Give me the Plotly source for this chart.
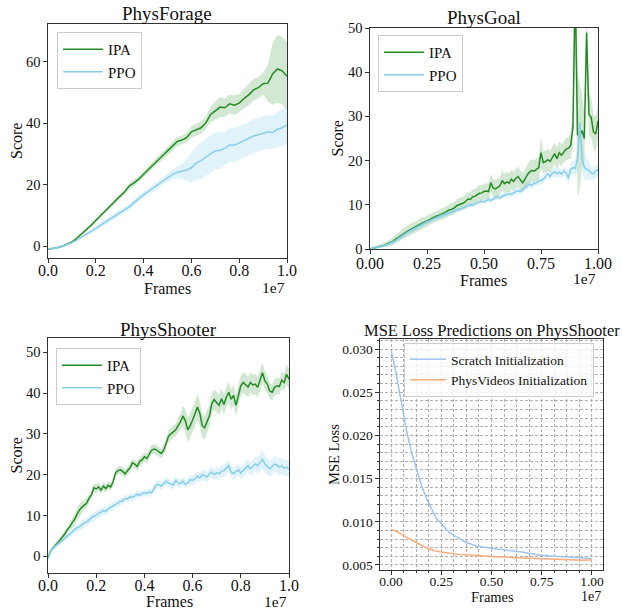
import plotly.graph_objects as go

FONT = "Liberation Serif"
W, H = 622, 609

# ---------------- data ----------------
# Frames are given in units of 1e7
forage_frames = [round(0.02 * i, 2) for i in range(51)]
forage_ipa = [-1.0, -0.8, -0.4, 0.0, 0.6, 1.4, 2.6, 3.9, 5.2, 6.8,
              8.4, 10.0, 11.5, 13.0, 14.6, 16.2, 17.6, 19.6, 20.6, 21.8,
              23.4, 25.0, 26.5, 28.0, 29.5, 31.0, 32.4, 34.0, 34.5, 35.3,
              37.2, 37.8, 38.5, 40.0, 42.8, 44.0, 45.2, 45.0, 46.3, 45.8,
              46.5, 48.0, 49.2, 50.8, 51.5, 52.8, 53.0, 56.0, 57.6, 57.0, 55.2]
forage_ipa_hw = [0.3, 0.3, 0.3, 0.3, 0.3, 0.4, 0.4, 0.4, 0.5, 0.5,
                 0.6, 0.6, 0.6, 0.7, 0.7, 0.8, 0.9, 1.0, 1.0, 1.0,
                 1.0, 1.1, 1.1, 1.2, 1.2, 1.4, 1.5, 1.5, 1.5, 1.6,
                 1.8, 2.0, 2.0, 2.0, 2.5, 3.0, 3.2, 3.0, 3.0, 3.2,
                 3.0, 3.2, 3.5, 3.5, 3.5, 3.5, 6.0, 10.0, 11.0, 11.0, 11.0]
forage_ppo = [-1.0, -0.8, -0.4, 0.0, 0.5, 1.2, 2.0, 2.9, 3.8, 4.8,
              5.8, 6.9, 7.9, 8.9, 9.9, 11.0, 11.8, 12.8, 14.2, 15.6,
              16.8, 17.8, 18.8, 20.0, 21.2, 22.2, 23.3, 24.0, 24.3, 24.8,
              25.5, 27.0, 27.8, 29.0, 30.0, 31.0, 31.2, 31.8, 33.0, 32.8,
              33.5, 34.2, 35.0, 35.8, 36.2, 36.8, 37.2, 37.0, 38.0, 38.5, 39.4]
forage_ppo_hw = [0.3, 0.3, 0.3, 0.3, 0.3, 0.3, 0.3, 0.4, 0.5, 0.6,
                 0.8, 0.9, 1.0, 1.0, 1.0, 1.0, 1.0, 1.0, 1.0, 1.0,
                 1.1, 1.2, 1.2, 1.2, 1.2, 1.3, 1.5, 2.0, 2.5, 3.5,
                 5.0, 5.5, 6.0, 6.0, 6.0, 6.0, 6.0, 5.5, 5.5, 5.5,
                 5.5, 5.5, 5.5, 5.5, 5.5, 5.5, 5.5, 5.5, 5.8, 6.0, 6.0]

goal_frames = [round(0.01 * i, 2) for i in range(101)]
goal_ipa = [0.0, 0.2, 0.3, 0.4, 0.6, 0.7, 0.8, 1.0, 1.2, 1.4,
            1.7, 2.1, 2.5, 2.9, 3.2, 3.5, 3.9, 4.2, 4.5, 4.7,
            5.0, 5.3, 5.6, 5.9, 6.1, 6.3, 6.6, 6.9, 7.2, 7.4,
            7.6, 7.8, 8.0, 8.3, 8.6, 8.9, 9.0, 9.3, 9.8, 10.0,
            10.2, 10.4, 10.8, 11.3, 11.2, 11.8, 11.9, 12.2, 12.6, 12.7,
            13.0, 13.1, 13.0, 15.0, 13.8, 13.6, 14.0, 14.3, 15.5, 14.8,
            15.2, 14.9, 15.8, 15.3, 16.0, 16.4, 15.6, 15.0, 15.8, 16.8,
            17.4, 17.8, 17.6, 18.0, 18.4, 21.8, 19.6, 19.8, 20.2, 19.8,
            20.6, 21.6, 20.4, 21.8, 21.2, 22.0, 22.6, 22.8, 23.4, 27.5,
            60.0, 26.0, 25.5, 26.8, 25.0, 49.0, 30.5, 29.8, 26.5, 26.0, 29.0]
goal_ipa_hw = [0.2, 0.2, 0.3, 0.3, 0.3, 0.4, 0.5, 0.6, 0.7, 0.8,
               0.9, 1.0, 1.1, 1.2, 1.2, 1.3, 1.3, 1.3, 1.3, 1.3,
               1.3, 1.3, 1.3, 1.3, 1.2, 1.2, 1.2, 1.2, 1.2, 1.2,
               1.2, 1.2, 1.3, 1.3, 1.3, 1.3, 1.4, 1.4, 1.4, 1.5,
               1.5, 1.5, 1.6, 1.6, 1.6, 1.7, 1.7, 1.8, 1.8, 1.8,
               1.8, 1.8, 1.8, 2.0, 2.0, 2.0, 2.0, 2.0, 2.2, 2.2,
               2.2, 2.2, 2.2, 2.2, 2.2, 2.2, 2.2, 2.2, 2.2, 2.4,
               2.5, 2.5, 2.5, 2.5, 2.5, 3.5, 2.5, 2.5, 2.5, 2.5,
               2.5, 2.5, 2.5, 2.5, 2.5, 2.5, 2.5, 2.5, 3.0, 4.0,
               15.0, 14.0, 12.0, 8.0, 6.0, 6.0, 5.0, 4.5, 4.0, 4.0, 4.0]
goal_ppo = [0.0, 0.2, 0.3, 0.4, 0.5, 0.7, 0.8, 0.9, 1.1, 1.3,
            1.5, 1.8, 2.2, 2.6, 2.9, 3.2, 3.6, 3.9, 4.2, 4.5,
            4.8, 5.1, 5.3, 5.6, 5.9, 6.1, 6.3, 6.6, 6.8, 7.0,
            7.2, 7.4, 7.5, 7.7, 8.0, 8.2, 8.3, 8.6, 8.8, 9.0,
            9.2, 9.4, 9.5, 9.8, 10.0, 9.9, 10.2, 10.5, 10.6, 10.8,
            10.7, 11.0, 11.2, 11.0, 11.4, 11.6, 11.8, 11.5, 12.0, 12.2,
            12.3, 12.5, 12.4, 12.8, 13.0, 13.2, 13.0, 13.5, 14.0, 14.3,
            14.7, 14.4, 14.9, 15.0, 15.4, 15.5, 15.8, 16.5, 17.0, 16.4,
            17.2, 17.5, 17.0, 17.4, 17.0, 17.6, 17.2, 16.0, 18.0, 18.4,
            18.2, 20.5, 28.5, 20.5, 18.5, 18.0, 17.8, 17.2, 17.0, 17.6, 18.0]
goal_ppo_hw = [0.2, 0.2, 0.2, 0.2, 0.3, 0.3, 0.3, 0.3, 0.4, 0.4,
               0.4, 0.4, 0.5, 0.5, 0.5, 0.5, 0.5, 0.5, 0.5, 0.5,
               0.5, 0.5, 0.5, 0.5, 0.5, 0.5, 0.5, 0.5, 0.5, 0.5,
               0.5, 0.5, 0.5, 0.5, 0.5, 0.5, 0.5, 0.5, 0.5, 0.5,
               0.5, 0.5, 0.5, 0.5, 0.5, 0.5, 0.5, 0.5, 0.5, 0.5,
               0.5, 0.5, 0.5, 0.6, 0.6, 0.6, 0.6, 0.6, 0.6, 0.6,
               0.7, 0.7, 0.7, 0.7, 0.7, 0.7, 0.7, 0.7, 0.8, 0.8,
               0.8, 0.8, 0.8, 0.8, 0.9, 0.9, 0.9, 1.0, 1.0, 1.0,
               1.0, 1.0, 1.0, 1.0, 1.0, 1.0, 1.0, 1.5, 1.5, 1.5,
               2.0, 3.0, 3.5, 3.0, 3.0, 2.5, 2.0, 1.5, 1.5, 1.5, 1.5]

shooter_frames = [round(0.01 * i, 2) for i in range(101)]
shooter_ipa = [-0.5, 1.2, 2.0, 2.6, 3.3, 4.0, 4.8, 5.5, 6.5, 7.2,
               8.2, 9.0, 10.2, 11.3, 12.0, 12.6, 13.0, 14.2, 15.0, 16.8,
               16.5, 17.0, 16.2, 17.2, 16.6, 17.4, 17.0, 18.2, 20.4, 21.0,
               21.2, 20.8, 20.2, 21.0, 21.6, 22.9, 22.6, 22.0, 23.2, 23.6,
               24.4, 24.0, 25.2, 26.0, 26.3, 26.1, 25.6, 25.2, 26.0, 27.8,
               29.4, 30.0, 30.6, 31.0, 32.0, 33.0, 34.4, 33.2, 31.0, 32.0,
               33.4, 35.0, 36.6, 35.0, 32.0, 31.5, 33.2, 34.5, 37.5, 38.4,
               37.6, 37.0, 38.6, 37.2, 39.0, 40.2, 38.5, 39.4, 37.0, 39.6,
               41.8, 42.6, 42.0, 41.5, 42.6, 42.0, 42.2, 41.4, 43.2, 45.0,
               43.0, 42.2, 40.5, 40.2, 41.4, 41.8, 41.6, 43.2, 42.6, 44.6, 43.4]
shooter_ipa_hw = [0.3, 0.4, 0.5, 0.5, 0.5, 0.5, 0.6, 0.7, 0.8, 1.0,
                  1.2, 1.4, 1.5, 1.5, 1.4, 1.2, 1.2, 1.0, 1.0, 1.0,
                  1.2, 1.0, 1.0, 1.0, 1.0, 1.0, 1.0, 1.0, 1.0, 1.0,
                  1.0, 1.0, 1.0, 1.0, 1.0, 1.0, 1.0, 1.2, 1.2, 1.2,
                  1.2, 1.2, 1.2, 1.2, 1.2, 1.2, 1.2, 1.2, 1.3, 1.4,
                  1.5, 1.5, 1.5, 1.6, 1.8, 2.0, 2.5, 2.8, 3.0, 3.0,
                  3.0, 3.2, 3.2, 3.0, 3.0, 2.8, 2.8, 2.5, 2.5, 2.5,
                  2.5, 2.5, 2.5, 2.5, 2.5, 2.5, 2.5, 2.5, 2.5, 2.5,
                  2.5, 2.5, 2.5, 2.5, 2.5, 2.5, 2.5, 2.5, 2.5, 2.5,
                  2.2, 2.2, 2.0, 2.0, 2.0, 2.0, 2.0, 2.0, 2.2, 2.5, 2.5]
shooter_ppo = [-0.5, 1.2, 2.0, 2.4, 2.9, 3.4, 3.9, 4.4, 4.9, 5.4,
               6.0, 6.4, 7.0, 7.2, 7.8, 8.2, 8.4, 9.0, 9.4, 9.8,
               10.0, 10.6, 10.8, 11.2, 11.0, 11.6, 12.0, 12.2, 12.8, 13.0,
               13.4, 13.6, 14.2, 14.0, 14.6, 14.4, 14.8, 15.2, 15.0, 15.4,
               15.6, 15.4, 15.8, 15.6, 16.6, 17.5, 17.6, 17.2, 17.8, 18.4,
               18.0, 17.6, 17.4, 18.6, 18.0, 17.8, 18.4, 17.6, 18.0, 18.8,
               18.6, 19.0, 19.6, 19.2, 20.0, 19.8, 19.4, 20.2, 20.6, 20.0,
               20.5, 20.2, 20.8, 21.0, 21.6, 22.2, 20.6, 20.2, 20.8, 21.2,
               20.4, 21.0, 21.6, 22.2, 21.4, 22.0, 22.6, 22.2, 23.0, 23.8,
               22.6, 22.0, 21.4, 22.0, 22.6, 22.4, 21.8, 22.2, 21.6, 21.8, 21.4]
shooter_ppo_hw = [0.3, 0.4, 0.5, 0.5, 0.5, 0.5, 0.5, 0.6, 0.6, 0.7,
                  0.8, 0.8, 0.9, 1.0, 1.0, 1.0, 1.0, 1.0, 1.0, 1.0,
                  1.0, 1.0, 1.0, 1.0, 1.0, 1.0, 1.0, 1.0, 1.0, 1.0,
                  0.9, 0.9, 0.9, 0.9, 0.9, 0.9, 0.9, 0.9, 0.9, 0.9,
                  0.9, 0.9, 0.9, 0.9, 1.0, 1.0, 1.0, 1.0, 1.0, 1.0,
                  1.0, 1.0, 1.0, 1.0, 1.0, 1.0, 1.0, 1.0, 1.0, 1.2,
                  1.2, 1.2, 1.2, 1.2, 1.3, 1.3, 1.3, 1.3, 1.4, 1.4,
                  1.4, 1.4, 1.5, 1.5, 1.5, 1.5, 1.5, 1.5, 1.5, 1.5,
                  1.5, 1.5, 1.6, 1.6, 1.6, 1.8, 1.8, 2.0, 2.0, 2.2,
                  2.2, 2.0, 2.0, 2.0, 2.0, 2.0, 2.0, 2.0, 2.0, 2.0, 2.0]

mse_frames = [round(0.025 * i, 3) for i in range(41)]
mse_scratch = [0.0299, 0.0272, 0.0240, 0.0208, 0.0182, 0.0161, 0.0143, 0.0128,
               0.0115, 0.0104, 0.0098, 0.0091, 0.0086, 0.0082, 0.0079, 0.0076,
               0.0074, 0.0072, 0.0071, 0.0070, 0.0069, 0.00685, 0.0068, 0.0067,
               0.0066, 0.00655, 0.0065, 0.0064, 0.0063, 0.0062, 0.0061, 0.0061,
               0.0060, 0.0060, 0.00595, 0.0059, 0.0059, 0.00585, 0.0058, 0.0058, 0.0057]
mse_physvideos = [0.0091, 0.0089, 0.0086, 0.0082, 0.0079, 0.0076, 0.0073, 0.0070,
                  0.0068, 0.0066, 0.0065, 0.0064, 0.0063, 0.00625, 0.0062, 0.00615,
                  0.0061, 0.00605, 0.0060, 0.0060, 0.00598, 0.00595, 0.0059, 0.0059,
                  0.00588, 0.00585, 0.0058, 0.0058, 0.00578, 0.00575, 0.0057, 0.0057,
                  0.00568, 0.00565, 0.00565, 0.0056, 0.0056, 0.00558, 0.00555, 0.00555, 0.0056]

x_ticks_a = [0.0, 0.2, 0.4, 0.6, 0.8, 1.0]
x_labels_a = ["0.0", "0.2", "0.4", "0.6", "0.8", "1.0"]
x_ticks_b = [0.0, 0.25, 0.5, 0.75, 1.0]
x_labels_b = ["0.00", "0.25", "0.50", "0.75", "1.00"]
forage_yticks = [0, 20, 40, 60]
goal_yticks = [0, 10, 20, 30, 40, 50]
shooter_yticks = [0, 10, 20, 30, 40, 50]
mse_yticks = [0.005, 0.010, 0.015, 0.020, 0.025, 0.030]
mse_ylabels = ["0.005", "0.010", "0.015", "0.020", "0.025", "0.030"]

# ---------------- styling ----------------
IPA_C = "#228b22"
IPA_F = "rgba(34,139,34,0.2)"
PPO_C = "#87ceeb"
PPO_F = "rgba(135,206,235,0.25)"
SCR_C = "#9ec5f0"
PHV_C = "#ffab7a"
AX_C = "#333333"
GRID_C = "#b0b0b0"

fig = go.Figure()


def add_series(x, m, hw, name, lc, fc, xa, ya, legend):
    up = [a + b for a, b in zip(m, hw)]
    lo = [a - b for a, b in zip(m, hw)]
    fig.add_trace(go.Scatter(x=list(x) + list(x)[::-1], y=up + lo[::-1], fill="toself",
                             fillcolor=fc, line=dict(width=0), mode="lines",
                             hoverinfo="skip", showlegend=False, xaxis=xa, yaxis=ya))
    fig.add_trace(go.Scatter(x=x, y=m, mode="lines", name=name, line=dict(color=lc, width=1.5),
                             xaxis=xa, yaxis=ya, legend=legend))


add_series(forage_frames, forage_ipa, forage_ipa_hw, "IPA", IPA_C, IPA_F, "x", "y", "legend")
add_series(forage_frames, forage_ppo, forage_ppo_hw, "PPO", PPO_C, PPO_F, "x", "y", "legend")
add_series(goal_frames, goal_ipa, goal_ipa_hw, "IPA", IPA_C, IPA_F, "x2", "y2", "legend2")
add_series(goal_frames, goal_ppo, goal_ppo_hw, "PPO", PPO_C, PPO_F, "x2", "y2", "legend2")
add_series(shooter_frames, shooter_ipa, shooter_ipa_hw, "IPA", IPA_C, IPA_F, "x3", "y3", "legend3")
add_series(shooter_frames, shooter_ppo, shooter_ppo_hw, "PPO", PPO_C, PPO_F, "x3", "y3", "legend3")

fig.add_trace(go.Scatter(x=mse_frames, y=mse_scratch, mode="lines", name="Scratch Initialization",
                         line=dict(color=SCR_C, width=1.5), xaxis="x4", yaxis="y4", legend="legend4"))
fig.add_trace(go.Scatter(x=mse_frames, y=mse_physvideos, mode="lines", name="PhysVideos Initialization",
                         line=dict(color=PHV_C, width=1.5), xaxis="x4", yaxis="y4", legend="legend4"))


def px_x(a, b):
    return [a / W, b / W]


def px_y(top, bottom):
    return [1 - bottom / H, 1 - top / H]


def axis(domain, rng, tv, tt, fs, anchor, **kw):
    d = dict(domain=domain, range=rng, tickvals=tv, ticktext=tt, ticks="outside", ticklen=3.5,
             tickwidth=1, tickcolor=AX_C, showline=True, linecolor=AX_C, linewidth=1.2, mirror=True,
             showgrid=False, zeroline=False, anchor=anchor, automargin=False,
             tickfont=dict(family=FONT, size=fs, color="#111111"))
    d.update(kw)
    return d


grid_kw = dict(showgrid=True, gridcolor=GRID_C, griddash="3px,2px", gridwidth=0.8)

fig.update_layout(
    xaxis=axis(px_x(48, 287), [0, 1], x_ticks_a, x_labels_a, 16, "y", ticklabelstandoff=-6),
    yaxis=axis(px_y(24, 258), [-3.8, 72.2], forage_yticks, [str(v) for v in forage_yticks], 14.5, "x"),
    xaxis2=axis(px_x(370, 598), [0, 1], x_ticks_b, x_labels_b, 16, "y2", ticklabelstandoff=-4),
    yaxis2=axis(px_y(28, 249), [0, 50], goal_yticks, [str(v) for v in goal_yticks], 14.5, "x2"),
    xaxis3=axis(px_x(48, 289), [0, 1], x_ticks_a, x_labels_a, 16, "y3", ticklabelstandoff=-6),
    yaxis3=axis(px_y(338, 573), [-4.1, 53.5], shooter_yticks, [str(v) for v in shooter_yticks], 14.5, "x3"),
    xaxis4=axis(px_x(380, 603), [-0.055, 1.055], x_ticks_b, x_labels_b, 13.5, "y4", ticklabelstandoff=-5,
                **grid_kw,
                minor=dict(dtick=0.0625, tick0=0, ticks="outside", ticklen=2, tickcolor=AX_C, **grid_kw)),
    yaxis4=axis(px_y(339, 570), [0.00442, 0.03116], mse_yticks, mse_ylabels, 13.5, "x4", **grid_kw,
                minor=dict(dtick=0.001, tick0=0, ticks="outside", ticklen=2, tickcolor=AX_C, **grid_kw)),
    width=W, height=H, margin=dict(l=0, r=0, t=0, b=0, autoexpand=False),
    paper_bgcolor="white", plot_bgcolor="white",
    font=dict(family=FONT, color="#111111"),
)

leg_common = dict(xanchor="left", yanchor="top", bgcolor="rgba(255,255,255,0.8)",
                  bordercolor="#cccccc", borderwidth=1, font=dict(family=FONT, size=15, color="#111111"),
                  tracegroupgap=0, itemwidth=40)
fig.update_layout(
    legend=dict(x=57 / W, y=1 - 32 / H, **leg_common),
    legend2=dict(x=378 / W, y=1 - 35 / H, **leg_common),
    legend3=dict(x=56 / W, y=1 - 348 / H, **leg_common),
    legend4=dict(x=404 / W, y=1 - 343 / H,
                 **{**leg_common, "itemwidth": 36, "font": dict(family=FONT, size=13.5, color="#111111")}),
)


def ann(text, x, y, size, xanchor="center", yanchor="middle", angle=0):
    fig.add_annotation(text=text, x=x / W, y=1 - y / H, xref="paper", yref="paper", showarrow=False,
                       xanchor=xanchor, yanchor=yanchor, textangle=angle,
                       font=dict(family=FONT, size=size, color="#111111"))


# titles
ann("PhysForage", 167.5, 14, 19)
ann("PhysGoal", 484, 18, 19)
ann("PhysShooter", 168.5, 329, 19)
ann("MSE Loss Predictions on PhysShooter", 491.5, 330, 16.5)
# axis labels
ann("Score", 16, 141, 16, angle=-90)
ann("Score", 337, 138.5, 16, angle=-90)
ann("Score", 16, 455.5, 16, angle=-90)
ann("MSE Loss", 333.5, 454.5, 14.5, angle=-90)
ann("Frames", 167.5, 288.5, 16)
ann("Frames", 483.5, 280, 16)
ann("Frames", 169.5, 601, 16)
ann("Frames", 492, 597, 14.5)
# offset labels
ann("1e7", 287, 287, 15.5, xanchor="right")
ann("1e7", 598, 278, 15.5, xanchor="right")
ann("1e7", 289, 601, 15.5, xanchor="right")
ann("1e7", 603, 596, 14, xanchor="right")

fig.write_html("out.html", config={"displayModeBar": False},
               post_script="document.body.style.margin='0';document.body.style.overflow='hidden';")
